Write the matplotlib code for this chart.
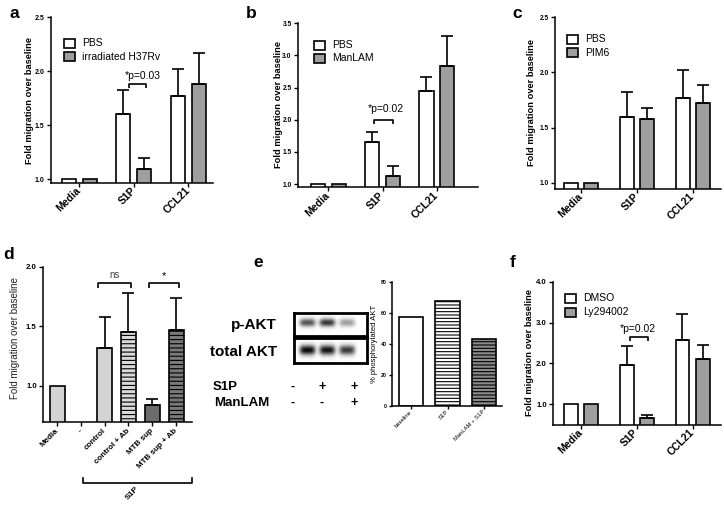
import numpy as np
import matplotlib
matplotlib.use('Agg')
import matplotlib.pyplot as plt
from matplotlib.patches import Rectangle
from matplotlib.lines import Line2D

plt.rcParams['font.family'] = ['Liberation Sans', 'DejaVu Sans']
plt.rcParams['hatch.linewidth'] = 0.8

# ---------------- data ----------------
groups = ['Media', 'S1P', 'CCL21']

a_pbs = [1.00, 1.60, 1.77]
a_pbs_err = [0.0, 0.22, 0.25]
a_trt = [1.00, 1.09, 1.88]
a_trt_err = [0.0, 0.10, 0.29]
a_names = ['PBS', 'irradiated H37Rv']
a_sig = '*p=0.03'
a_sig_y = 1.88

b_pbs = [1.00, 1.66, 2.44]
b_pbs_err = [0.0, 0.15, 0.22]
b_trt = [1.00, 1.12, 2.83]
b_trt_err = [0.0, 0.16, 0.47]
b_names = ['PBS', 'ManLAM']
b_sig = '*p=0.02'
b_sig_y = 2.00

c_pbs = [1.00, 1.60, 1.77]
c_pbs_err = [0.0, 0.22, 0.25]
c_trt = [1.00, 1.58, 1.72]
c_trt_err = [0.0, 0.10, 0.17]
c_names = ['PBS', 'PIM6']

d_labels = ['Media', '-', 'control', 'control + Ab', 'MTB sup', 'MTB sup + Ab']
d_vals = [1.00, 0.0, 1.32, 1.45, 0.84, 1.47]
d_err = [0.0, 0.0, 0.26, 0.33, 0.05, 0.27]
d_sig_labels = ['ns', '*']
d_sig_y = 1.86

e_labels = ['baseline', 'S1P', 'ManLAM + S1P']
e_vals = [57.5, 68.0, 43.0]
blot_rows = ['p-AKT', 'total AKT']
blot_pakt = [0.68, 0.80, 0.38]
blot_total = [0.97, 0.93, 0.78]
blot_s1p = ['-', '+', '+']
blot_manlam = ['-', '-', '+']

f_dmso = [1.00, 1.96, 2.57]
f_dmso_err = [0.0, 0.47, 0.65]
f_trt = [1.00, 0.67, 2.10]
f_trt_err = [0.0, 0.06, 0.35]
f_names = ['DMSO', 'Ly294002']
f_sig = '*p=0.02'
f_sig_y = 2.64

ylab = 'Fold migration over baseline'

# ---------------- layout helpers ----------------
W, H = 724, 508
fig = plt.figure(figsize=(W / 100, H / 100), dpi=100)


def fx(x):
    return x / W


def fy(y):
    return 1 - y / H


def add_ax(l, t, r, b):
    return fig.add_axes([l / W, 1 - b / H, (r - l) / W, (b - t) / H])


GRAY = '#9e9e9e'
LW = 1.2


def style(ax, yticks, ylim, xlim, fs, fmt='{:.1f}'):
    ax.set_ylim(*ylim)
    ax.set_xlim(*xlim)
    for s in ['top', 'right']:
        ax.spines[s].set_visible(False)
    for s in ['left', 'bottom']:
        ax.spines[s].set_linewidth(1.1)
    ax.set_yticks(yticks)
    ax.set_yticklabels([fmt.format(v) for v in yticks], fontsize=fs, fontweight='bold')
    ax.tick_params(axis='both', length=3, width=1.0, pad=1.5)
    ax.patch.set_alpha(0)


def errbars(ax, xs, vals, errs):
    for xi, v, e in zip(xs, vals, errs):
        if e > 0:
            ax.errorbar(xi, v, yerr=[[0], [e]], fmt='none', ecolor='black',
                        elinewidth=LW, capsize=4, capthick=LW, zorder=3)


def grouped(ax, s1, e1, s2, e2, off=0.193, width=0.257):
    x = np.arange(len(groups))
    ax.bar(x - off, s1, width, color='white', edgecolor='black', linewidth=LW, zorder=2)
    ax.bar(x + off, s2, width, color=GRAY, edgecolor='black', linewidth=LW, zorder=2)
    errbars(ax, x - off, s1, e1)
    errbars(ax, x + off, s2, e2)
    ax.set_xticks(x)
    ax.set_xticklabels(groups, rotation=45, ha='right', va='center',
                       rotation_mode='anchor', fontsize=7.5, fontweight='bold')
    ax.tick_params(axis='x', pad=3)


def bracket(ax, x1, x2, y, drop):
    ax.plot([x1, x1, x2, x2], [y - drop, y, y, y - drop], color='black',
            lw=LW, solid_capstyle='butt', zorder=3)


def legend(x, y1, y2, names, fs=7.5):
    for yy, col, nm in [(y1, 'white', names[0]), (y2, GRAY, names[1])]:
        fig.add_artist(Rectangle((fx(x), fy(yy + 9)), 11 / W, 9 / H,
                                 transform=fig.transFigure, facecolor=col,
                                 edgecolor='black', lw=LW))
        fig.text(fx(x + 18), fy(yy + 4.5), nm, fontsize=fs, va='center', ha='left')


def ylabel(x, y, txt, fs=6.7, weight='bold', color='black'):
    fig.text(fx(x), fy(y), txt, rotation=90, ha='center', va='center',
             fontsize=fs, fontweight=weight, color=color)


def letter(x, y, s):
    fig.text(fx(x), fy(y), s, fontsize=12.5, fontweight='bold', va='baseline', ha='left')


# ---------------- panel a ----------------
ax = add_ax(51, 17, 213, 183)
grouped(ax, a_pbs, a_pbs_err, a_trt, a_trt_err)
style(ax, [1.0, 1.5, 2.0, 2.5], (0.963, 2.5), (-0.522, 2.45), 5.0)
bracket(ax, 1 - 0.10, 1 + 0.23, a_sig_y, 0.035)
ax.text(0.83, a_sig_y + 0.075, a_sig, fontsize=7.5, ha='left', va='center')
legend(64, 39, 52, a_names)
ylabel(29, 100, ylab)
letter(9, 17.5, 'a')

# ---------------- panel b ----------------
ax = add_ax(298, 23.3, 478, 187.3)
grouped(ax, b_pbs, b_pbs_err, b_trt, b_trt_err, off=0.19, width=0.26)
style(ax, [1.0, 1.5, 2.0, 2.5, 3.0, 3.5], (0.95, 3.5), (-0.56, 2.76), 4.8)
bracket(ax, 1 - 0.15, 1 + 0.19, b_sig_y, 0.06)
ax.text(0.72, b_sig_y + 0.17, b_sig, fontsize=7.5, ha='left', va='center')
legend(314, 41, 53.5, b_names)
ylabel(278.5, 105, ylab)
letter(246, 17.5, 'b')

# ---------------- panel c ----------------
ax = add_ax(555, 17.3, 721, 188.7)
grouped(ax, c_pbs, c_pbs_err, c_trt, c_trt_err, off=0.18, width=0.25)
style(ax, [1.0, 1.5, 2.0, 2.5], (0.946, 2.5), (-0.464, 2.5), 4.8)
legend(567, 35, 48, c_names)
ylabel(531, 102, ylab)
letter(512, 18, 'c')

# ---------------- panel d ----------------
ax = add_ax(43, 266.7, 192, 421.7)
xd = np.arange(len(d_labels))
d_fc = ['#d3d3d3', '#d3d3d3', '#d3d3d3', '#d9d9d9', '#6b6b6b', '#7a7a7a']
d_hatch = [None, None, None, '----', None, '----']
for xi, v, c, h in zip(xd, d_vals, d_fc, d_hatch):
    if v > 0:
        ax.bar(xi, v, 0.63, color=c, edgecolor='black', linewidth=LW, hatch=h, zorder=2)
errbars(ax, xd, d_vals, d_err)
ax.set_xticks(xd)
ax.set_xticklabels(d_labels, rotation=45, ha='right', va='center',
                   rotation_mode='anchor', fontsize=5.8, fontweight='bold')
style(ax, [1.0, 1.5, 2.0], (0.70, 2.0), (-0.59, 5.67), 5.6)
ax.tick_params(axis='x', pad=3)
bracket(ax, 1.72, 3.11, d_sig_y, 0.035)
ax.text(2.42, d_sig_y + 0.07, d_sig_labels[0], fontsize=7, ha='center', va='center', color='#444444')
bracket(ax, 3.87, 5.13, d_sig_y, 0.035)
ax.text(4.5, d_sig_y + 0.065, d_sig_labels[1], fontsize=8, ha='center', va='center')
ylabel(15, 338, ylab, fs=7.0, weight='normal', color='#222222')
letter(3, 259, 'd')
# S1P bracket under labels
fig.add_artist(Line2D([fx(83), fx(83), fx(192), fx(192)], [fy(478), fy(483), fy(483), fy(478)],
                      transform=fig.transFigure, color='black', lw=LW))
fig.text(fx(132), fy(493), 'S1P', rotation=45, ha='center', va='center', fontsize=6, fontweight='bold')

# ---------------- panel e ----------------
letter(253, 267, 'e')
lanes = np.arange(3)
xl = (-0.68, 3.05)


def blot(t, b, inten, yc, sy):
    bx = add_ax(294, t, 367, b)
    X, Y = np.meshgrid(np.linspace(xl[0], xl[1], 300), np.linspace(0, 1, 100))
    img = np.zeros_like(X)
    for i, v in zip(lanes, inten):
        img += v * np.exp(-((X - i) / 0.40) ** 4) * np.exp(-((Y - yc) / sy) ** 2)
    bx.imshow(img, cmap='gray_r', vmin=0, vmax=1.0, extent=(xl[0], xl[1], 1, 0),
              aspect='auto', interpolation='bilinear')
    bx.set_xlim(*xl)
    bx.set_ylim(1, 0)
    bx.set_xticks([])
    bx.set_yticks([])
    for s in bx.spines.values():
        s.set_linewidth(2.0)


blot(312.7, 336, blot_pakt, 0.44, 0.17)
blot(338.3, 363.3, blot_total, 0.50, 0.19)
fig.text(fx(277), fy(325), blot_rows[0], fontsize=11, fontweight='bold', ha='right', va='center')
fig.text(fx(277), fy(352.5), blot_rows[1], fontsize=11, fontweight='bold', ha='right', va='center')
fig.text(fx(213), fy(387), 'S1P', fontsize=9.5, fontweight='bold', ha='left', va='center')
fig.text(fx(214), fy(403), 'ManLAM', fontsize=9.5, fontweight='bold', ha='left', va='center')
for xp, s1, s2 in zip([292.3, 321.7, 354.3], blot_s1p, blot_manlam):
    fig.text(fx(xp), fy(387), s1, fontsize=9, fontweight='bold', ha='center', va='center')
    fig.text(fx(xp), fy(403), s2, fontsize=9, fontweight='bold', ha='center', va='center')

ax = add_ax(392, 282.3, 502, 405.7)
xe = np.arange(3)
e_fc = ['white', 'white', '#8a8a8a']
e_hatch = [None, '-----', '-----']
for xi, v, c, h in zip(xe, e_vals, e_fc, e_hatch):
    ax.bar(xi, v, 0.66, color=c, edgecolor='black', linewidth=LW, hatch=h, zorder=2)
style(ax, [0, 20, 40, 60, 80], (0, 80), (-0.52, 2.49), 3.8, fmt='{:.0f}')
ax.set_xticks(xe)
ax.set_xticklabels(e_labels, rotation=45, ha='right', va='center',
                   rotation_mode='anchor', fontsize=4.2)
ax.tick_params(axis='both', length=2)
ax.tick_params(axis='x', pad=2)
ylabel(375, 344, '% phosphorylated AKT', fs=5.5, weight='normal')

# ---------------- panel f ----------------
ax = add_ax(553, 281.7, 721, 425)
grouped(ax, f_dmso, f_dmso_err, f_trt, f_trt_err, off=0.18, width=0.25)
style(ax, [1.0, 2.0, 3.0, 4.0], (0.495, 4.0), (-0.50, 2.51), 5.6)
bracket(ax, 1 - 0.12, 1 + 0.2, f_sig_y, 0.08)
ax.text(0.70, f_sig_y + 0.2, f_sig, fontsize=7.5, ha='left', va='center')
legend(565, 293.5, 307.5, f_names)
ylabel(530, 353, ylab)
letter(510, 267, 'f')

fig.savefig('out.png', dpi=100)
